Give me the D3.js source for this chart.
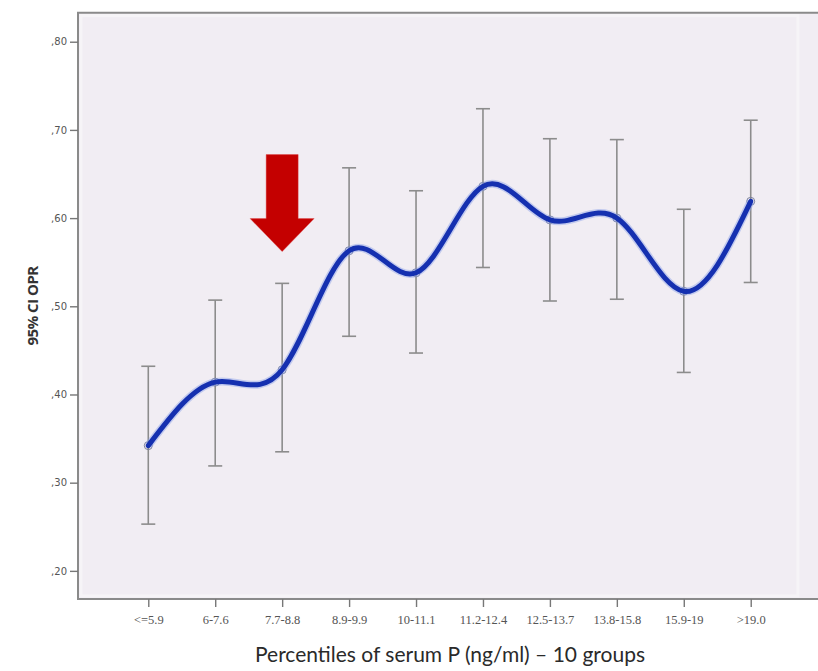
<!DOCTYPE html>
<html>
<head>
<meta charset="utf-8">
<script src="https://cdn.jsdelivr.net/npm/d3@7"></script>
<style>
  html, body { margin: 0; padding: 0; background: #fff; }
  svg { display: block; }
</style>
</head>
<body>
<svg id="chart" width="818" height="671"></svg>
<script>
// groups of serum P (ng/ml)
const groups = ["<=5.9", "6-7.6", "7.7-8.8", "8.9-9.9", "10-11.1", "11.2-12.4", "12.5-13.7", "13.8-15.8", "15.9-19", ">19.0"];
const means  = [0.342, 0.414, 0.428, 0.563, 0.538, 0.636, 0.598, 0.600, 0.517, 0.619];
const lower  = [0.253, 0.319, 0.335, 0.466, 0.447, 0.544, 0.506, 0.508, 0.425, 0.527];
const upper  = [0.432, 0.507, 0.526, 0.657, 0.631, 0.724, 0.690, 0.689, 0.610, 0.711];
const yTicks = [0.2, 0.3, 0.4, 0.5, 0.6, 0.7, 0.8];

// red arrow pointing at group 3
const arrowGroup = "7.7-8.8";
const arrowFrom = 0.672, arrowTo = 0.562;

const svg = d3.select("#chart");
const frame = {left: 78, right: 821, top: 12.7, bottom: 599};

const x = d3.scalePoint()
    .domain(groups)
    .range([frame.left, frame.right])
    .padding(1.05);

const y = d3.scaleLinear()
    .domain([0.1681, 0.8329])
    .range([frame.bottom, frame.top]);

const data = groups.map((g, i) => ({g, m: means[i], lo: lower[i], hi: upper[i]}));

// plot background
svg.append("rect")
    .attr("x", frame.left).attr("y", frame.top)
    .attr("width", frame.right - frame.left)
    .attr("height", frame.bottom - frame.top)
    .attr("fill", "#f1edf3");
// soft inner border
svg.append("rect")
    .attr("x", frame.left + 3).attr("y", frame.top + 3)
    .attr("width", frame.right - frame.left - 26)
    .attr("height", frame.bottom - frame.top - 6)
    .attr("fill", "none")
    .attr("stroke", "#f6f4f7")
    .attr("stroke-width", 3);

// error bars
const eb = svg.append("g").attr("class", "errbars")
    .attr("stroke", "#8c8c8c").attr("stroke-width", 1.6);
eb.selectAll(".whisker").data(data).join("line")
    .attr("class", "whisker")
    .attr("x1", d => x(d.g)).attr("x2", d => x(d.g))
    .attr("y1", d => y(d.lo)).attr("y2", d => y(d.hi));
eb.selectAll(".capTop").data(data).join("line")
    .attr("class", "capTop")
    .attr("x1", d => x(d.g) - 7).attr("x2", d => x(d.g) + 7)
    .attr("y1", d => y(d.hi)).attr("y2", d => y(d.hi));
eb.selectAll(".capBot").data(data).join("line")
    .attr("class", "capBot")
    .attr("x1", d => x(d.g) - 7).attr("x2", d => x(d.g) + 7)
    .attr("y1", d => y(d.lo)).attr("y2", d => y(d.lo));

// smooth mean line
const line = d3.line()
    .x(d => x(d.g))
    .y(d => y(d.m))
    .curve(d3.curveNatural);

svg.append("g").selectAll("circle").data(data).join("circle")
    .attr("cx", d => x(d.g)).attr("cy", d => y(d.m))
    .attr("r", 4)
    .attr("fill", "none")
    .attr("stroke", "#7a7f9a")
    .attr("stroke-width", 1);

svg.append("path")
    .datum(data)
    .attr("fill", "none")
    .attr("stroke", "#8aa0e8")
    .attr("stroke-opacity", 0.45)
    .attr("stroke-width", 8)
    .attr("d", line);
svg.append("path")
    .datum(data)
    .attr("fill", "none")
    .attr("stroke", "#1530b0")
    .attr("stroke-width", 5)
    .attr("stroke-linecap", "round")
    .attr("d", line);

// red arrow
const ax = x(arrowGroup), yTop = y(arrowFrom), yTip = y(arrowTo);
const headH = 33, shaftW = 16, headW = 32;
svg.append("path")
    .attr("d", `M${ax - shaftW},${yTop} L${ax + shaftW},${yTop} L${ax + shaftW},${yTip - headH}
                L${ax + headW},${yTip - headH} L${ax},${yTip} L${ax - headW},${yTip - headH}
                L${ax - shaftW},${yTip - headH} Z`)
    .attr("fill", "#c40000")
    .attr("stroke", "#e04040")
    .attr("stroke-opacity", 0.4)
    .attr("stroke-width", 1);

// frame
svg.append("path")
    .attr("d", `M${frame.right},${frame.top} L${frame.left},${frame.top} L${frame.left},${frame.bottom} L${frame.right},${frame.bottom}`)
    .attr("fill", "none")
    .attr("stroke", "#8a8a8a")
    .attr("stroke-width", 2);

// y axis
const yAxis = svg.append("g")
    .attr("transform", `translate(${frame.left},0)`)
    .call(d3.axisLeft(y).tickValues(yTicks).tickSize(8).tickPadding(3)
        .tickFormat(d => "," + d3.format(".2f")(d).split(".")[1]));
yAxis.select(".domain").remove();
yAxis.selectAll(".tick line").attr("stroke", "#777").attr("stroke-width", 1.4);
yAxis.selectAll(".tick text")
    .attr("fill", "#555")
    .style("font-family", "'DejaVu Sans', sans-serif")
    .style("font-size", "10px");

// x axis
const xAxis = svg.append("g")
    .attr("transform", `translate(0,${frame.bottom})`)
    .call(d3.axisBottom(x).tickSize(8).tickPadding(8));
xAxis.select(".domain").remove();
xAxis.selectAll(".tick line").attr("stroke", "#777").attr("stroke-width", 1.4);
xAxis.selectAll(".tick text")
    .attr("fill", "#555")
    .style("font-family", "'Liberation Serif', serif")
    .style("font-size", "12.5px");

// axis titles
svg.append("text")
    .attr("transform", `translate(38,${(frame.top + frame.bottom) / 2}) rotate(-90)`)
    .attr("text-anchor", "middle")
    .attr("fill", "#333")
    .style("font-family", "'Open Sans', sans-serif")
    .style("font-weight", "bold")
    .style("font-size", "15px")
    .style("letter-spacing", "-0.5px")
    .text("95% CI OPR");

svg.append("text")
    .attr("x", 450)
    .attr("y", 662)
    .attr("text-anchor", "middle")
    .attr("fill", "#2a2a2a")
    .style("font-family", "Lato, sans-serif")
    .style("font-size", "21px")
    .text("Percentiles of serum P (ng/ml) – 10 groups");
</script>
</body>
</html>
